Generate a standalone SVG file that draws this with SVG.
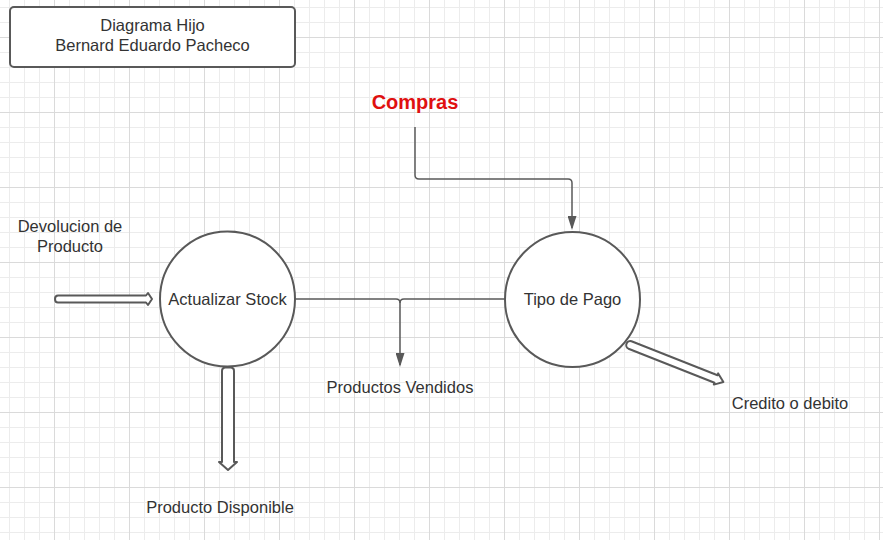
<svg xmlns="http://www.w3.org/2000/svg" width="883" height="540" viewBox="0 0 883 540">
<defs>
<pattern id="grid" patternUnits="userSpaceOnUse" x="-21" y="-38" width="75" height="75">
<path d="M15.5,0V75M30.5,0V75M45.5,0V75M60.5,0V75M0,15.5H75M0,30.5H75M0,45.5H75M0,60.5H75" stroke="#ececec" stroke-width="1" fill="none"/>
<path d="M0.5,0V75M0,0.5H75" stroke="#dadada" stroke-width="1" fill="none"/>
</pattern>
<marker id="tri" markerUnits="userSpaceOnUse" markerWidth="14" markerHeight="9" refX="12" refY="4.5" orient="auto" viewBox="0 0 14 9">
<path d="M0,0L14,4.5L0,9Z" fill="#595959"/>
</marker>
<style>
.t{font-family:"Liberation Sans",Arial,sans-serif;font-size:16.5px;fill:#333;text-anchor:middle}
.n{fill:#fff;stroke:#595959;stroke-width:2}
.c{fill:none;stroke:#595959;stroke-width:1.5}
.h{fill:#fff;stroke:#595959;stroke-width:2;stroke-linejoin:round}
</style>
</defs>
<rect width="883" height="540" fill="#fff"/>
<rect width="883" height="540" fill="url(#grid)"/>
<g id="title">
<rect class="n" x="10" y="7" width="285" height="60" rx="4"/>
<text class="t" x="152.5" y="31">Diagrama Hijo</text>
<text class="t" x="152.5" y="51">Bernard Eduardo Pacheco</text>
</g>
<g id="compras">
<text x="415" y="109" style="font-family:'Liberation Sans',Arial,sans-serif;font-size:20px;font-weight:bold;fill:#e01010;text-anchor:middle">Compras</text>
</g>
<g id="actualizar">
<circle class="n" cx="227.5" cy="299" r="67.5"/>
<text class="t" x="227.5" y="305">Actualizar Stock</text>
</g>
<g id="tipo">
<circle class="n" cx="572.5" cy="299.5" r="67.5"/>
<text class="t" x="572.5" y="305">Tipo de Pago</text>
</g>
<g id="labels">
<text class="t" x="70" y="232">Devolucion de</text>
<text class="t" x="70" y="252">Producto</text>
<text class="t" x="400" y="393">Productos Vendidos</text>
<text class="t" x="790" y="409">Credito o debito</text>
<text class="t" x="220" y="513">Producto Disponible</text>
</g>
<g id="connectors">
<path class="c" d="M415,127V175Q415,179 419,179H568Q572,179 572,183V228" marker-end="url(#tri)"/>
<path class="c" d="M295,299H396Q400,299 400,303V365" marker-end="url(#tri)"/>
<path class="c" d="M505,299H404Q400,299 400,303"/>
<path class="h" d="M58,295.5H146L148,293L152,299L148,305L146,302.5H58Q55,302.5 55,299Q55,295.5 58,295.5Z"/>
<path class="h" d="M222,371Q222,367.5 225.5,367.5H230.5Q234,367.5 234,371V462L237,462L228,470L219,462L222,462Z"/>
<path class="h" d="M631.5,341.3L717.5,375.3L718.2,373.4L723.4,382L713.8,384.6L714.5,382.7L628.5,348.7A4,4 0 0 1 631.5,341.3Z"/>
</g>
</svg>
